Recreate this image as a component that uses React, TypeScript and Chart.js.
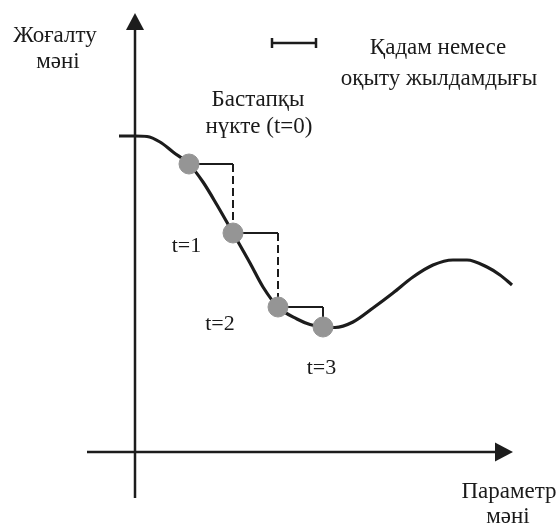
import React, { useEffect, useRef } from "react";
import { Chart, registerables } from "chart.js";

Chart.register(...registerables);

// Loss curve sampled along the parameter axis
const paramValues = [-1.6, 0, 1.2, 2.5, 3.8, 5.4, 6.8, 8.2, 9.8, 11.5, 12.8, 14.3, 16.2, 17.5, 18.8, 20.0, 21.8, 23.8, 25.8, 27.8, 29.8, 31.8, 33.2, 35.2, 36.5, 37.7];
const lossValues = [31.6, 31.6, 31.55, 31.0, 30.0, 28.8, 27.0, 24.7, 21.9, 18.9, 16.5, 14.5, 13.3, 12.75, 12.5, 12.45, 13.0, 14.4, 15.9, 17.5, 18.7, 19.2, 19.2, 18.5, 17.7, 16.7];

// Gradient descent iterates t = 0..3
const stepParams = [5.4, 9.8, 14.3, 18.8];
const stepLosses = [28.8, 21.9, 14.5, 12.5];
const stepDashed = [true, true, false];

// Step-size marker (learning rate)
const rateStart = 13.7;
const rateEnd = 18.1;
const rateLevel = 40.9;

const labelTexts = [
  "Жоғалту",
  "мәні",
  "Қадам немесе",
  "оқыту жылдамдығы",
  "Бастапқы",
  "нүкте (t=0)",
  "t=1",
  "t=2",
  "t=3",
  "Параметр",
  "мәні",
];

// Anchor of each text (center x, baseline y) in axis units
const labelAnchors: [number, number][] = [
  [-8.0, 41.0],
  [-7.7, 38.4],
  [30.3, 39.8],
  [30.4, 36.7],
  [12.3, 34.6],
  [12.4, 31.9],
  [5.15, 20.0],
  [8.5, 12.2],
  [18.65, 7.8],
  [37.4, -4.6],
  [37.3, -7.1],
];
const smallLabel = [false, false, false, false, false, false, true, true, true, false, false];

const X_MIN = -13.5;
const X_MAX = 42.5;
const Y_MIN = -7.6;
const Y_MAX = 45.2;

const INK = "#1c1c1c";
const FONT_MAIN = '23px "Liberation Serif", "Times New Roman", serif';
const FONT_SMALL = '22px "Liberation Serif", "Times New Roman", serif';

const axesPlugin = {
  id: "axesArrows",
  beforeDatasetsDraw(chart: any) {
    const { ctx, scales } = chart;
    const xs = scales.x;
    const ys = scales.y;
    const px = (v: number) => xs.getPixelForValue(v);
    const py = (v: number) => ys.getPixelForValue(v);
    ctx.save();
    ctx.strokeStyle = INK;
    ctx.fillStyle = INK;
    ctx.lineWidth = 2.5;
    ctx.lineCap = "butt";

    // vertical (loss) axis
    const ax = px(0);
    ctx.beginPath();
    ctx.moveTo(ax, py(-4.6));
    ctx.lineTo(ax, py(42.5));
    ctx.stroke();
    ctx.beginPath();
    ctx.moveTo(ax, py(43.9));
    ctx.lineTo(ax - 9, py(42.2));
    ctx.lineTo(ax + 9, py(42.2));
    ctx.closePath();
    ctx.fill();

    // horizontal (parameter) axis
    const ay = py(0);
    ctx.beginPath();
    ctx.moveTo(px(-4.8), ay);
    ctx.lineTo(px(36.5), ay);
    ctx.stroke();
    ctx.beginPath();
    ctx.moveTo(px(37.8), ay);
    ctx.lineTo(px(36.0), ay - 9.5);
    ctx.lineTo(px(36.0), ay + 9.5);
    ctx.closePath();
    ctx.fill();

    // learning-rate marker
    const ry = py(rateLevel);
    ctx.lineWidth = 2.5;
    ctx.beginPath();
    ctx.moveTo(px(rateStart), ry);
    ctx.lineTo(px(rateEnd), ry);
    ctx.moveTo(px(rateStart), ry - 5);
    ctx.lineTo(px(rateStart), ry + 5);
    ctx.moveTo(px(rateEnd), ry - 5);
    ctx.lineTo(px(rateEnd), ry + 5);
    ctx.stroke();

    // texts
    ctx.fillStyle = "#1a1a1a";
    ctx.textAlign = "center";
    ctx.textBaseline = "alphabetic";
    labelTexts.forEach((t, i) => {
      const [lx, ly] = labelAnchors[i];
      ctx.font = smallLabel[i] ? FONT_SMALL : FONT_MAIN;
      ctx.fillText(t, px(lx), py(ly));
    });
    ctx.restore();
  },
};

export default function App() {
  const canvasRef = useRef<HTMLCanvasElement | null>(null);

  useEffect(() => {
    const canvas = canvasRef.current;
    if (!canvas) return;

    const curve = paramValues.map((x, i) => ({ x, y: lossValues[i] }));
    const dots = stepParams.map((x, i) => ({ x, y: stepLosses[i] }));

    // horizontal run of each step (solid)
    const runs = stepDashed.map((_, i) => ({
      type: "line" as const,
      data: [
        { x: stepParams[i], y: stepLosses[i] },
        { x: stepParams[i + 1], y: stepLosses[i] },
      ],
      borderColor: INK,
      borderWidth: 2,
      pointRadius: 0,
      tension: 0,
      fill: false,
    }));
    // vertical drop of each step
    const drops = stepDashed.map((dashed, i) => ({
      type: "line" as const,
      data: [
        { x: stepParams[i + 1], y: stepLosses[i] },
        { x: stepParams[i + 1], y: stepLosses[i + 1] },
      ],
      borderColor: INK,
      borderWidth: 2,
      borderDash: dashed ? [8, 4] : [],
      pointRadius: 0,
      tension: 0,
      fill: false,
    }));

    const chart = new Chart(canvas, {
      type: "line",
      data: {
        datasets: [
          {
            type: "scatter" as const,
            data: dots,
            pointRadius: 10,
            pointBackgroundColor: "#959595",
            pointBorderColor: "#959595",
            pointBorderWidth: 1,
            showLine: false,
          },
          {
            data: curve,
            borderColor: INK,
            borderWidth: 3.2,
            pointRadius: 0,
            cubicInterpolationMode: "monotone",
            borderJoinStyle: "round",
            fill: false,
          },
          ...runs,
          ...drops,
        ] as any,
      },
      options: {
        animation: false,
        responsive: false,
        layout: { padding: 0, autoPadding: false },
        plugins: {
          legend: { display: false },
          tooltip: { enabled: false },
        },
        scales: {
          x: { type: "linear", min: X_MIN, max: X_MAX, display: false },
          y: { type: "linear", min: Y_MIN, max: Y_MAX, display: false },
        },
      },
      plugins: [axesPlugin],
    });

    return () => chart.destroy();
  }, []);

  return (
    <canvas
      ref={canvasRef}
      width={560}
      height={528}
      style={{ position: "absolute", left: 0, top: 0, display: "block", background: "#fff" }}
    />
  );
}
